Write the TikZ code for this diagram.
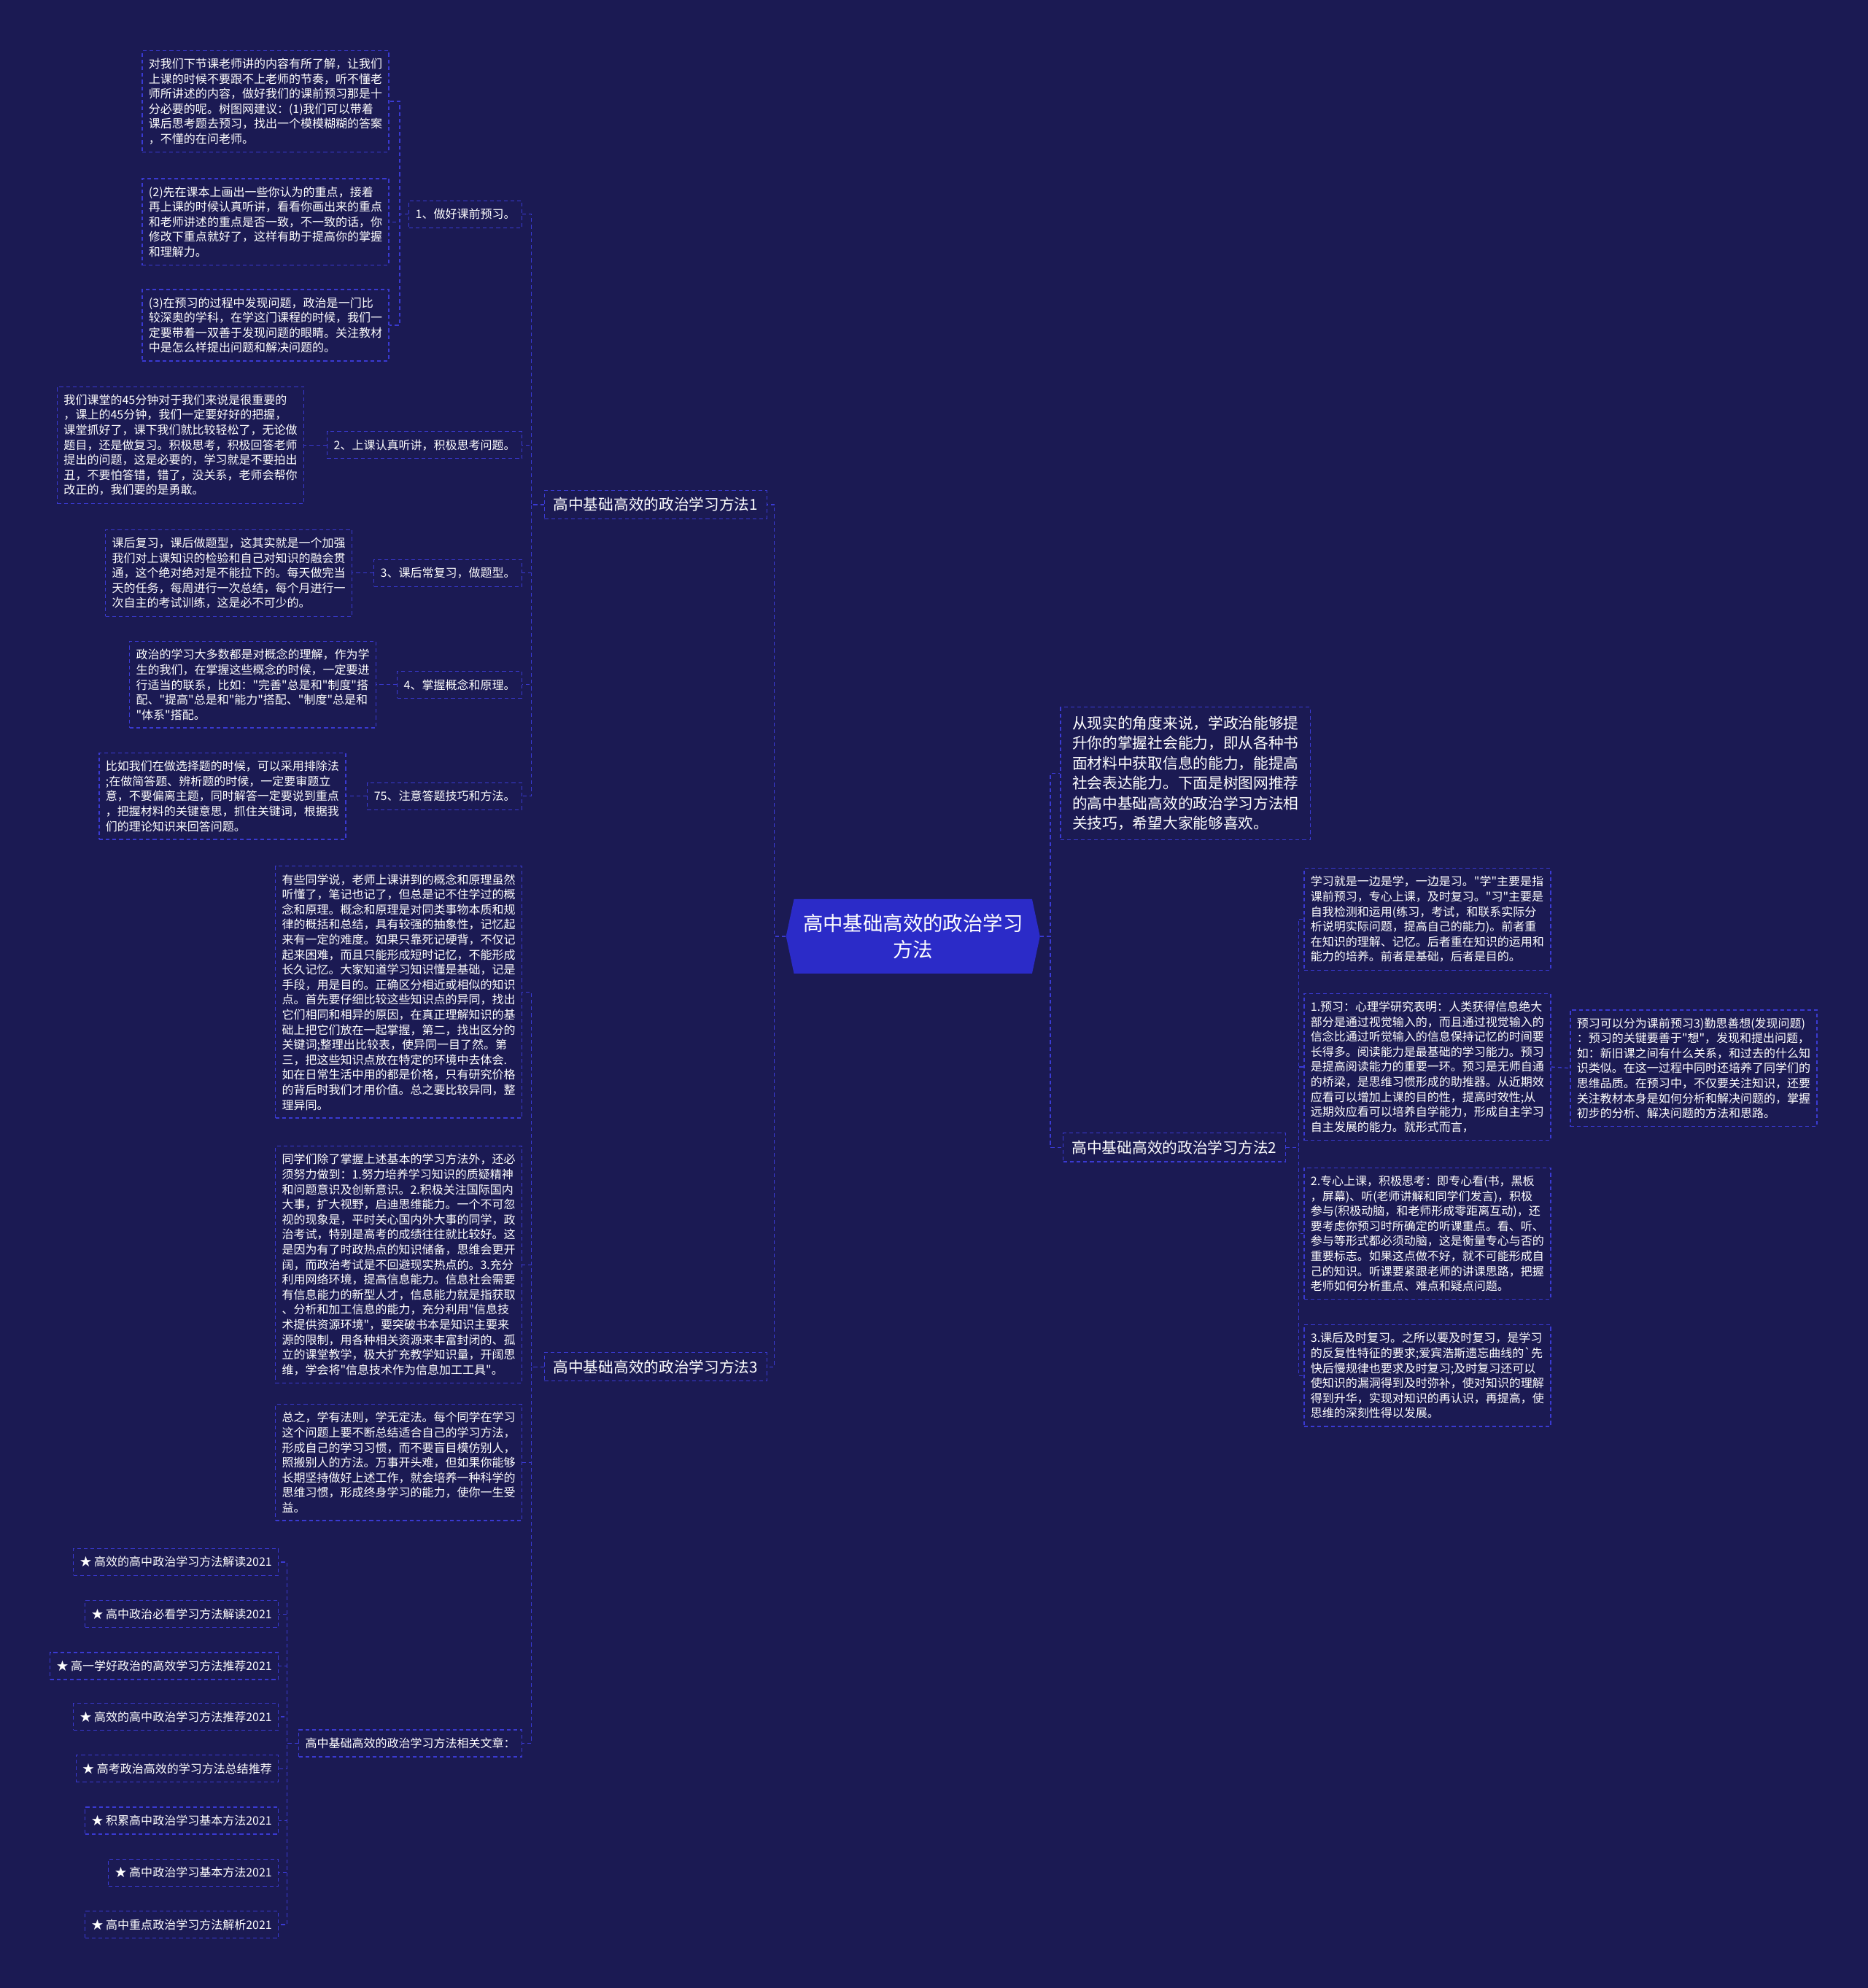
\documentclass[tikz,border=0pt]{standalone}
\usepackage{fontspec}
\newfontfamily\cjkfont{Noto Sans CJK SC}
\usetikzlibrary{shapes.symbols,positioning}
\definecolor{bgnavy}{HTML}{1B1A53}
\definecolor{linkblue}{HTML}{3A3AD2}
\definecolor{rootblue}{HTML}{2B2BC8}

\begin{document}
\begin{tikzpicture}[x=0.869pt, y=-0.869pt,
  link/.style={draw=linkblue, line width=0.65pt, dash pattern=on 2.6pt off 2pt},
  para/.style={link, text=white, align=left, text width=160pt, inner xsep=4.5pt, inner ysep=5.3pt, font=\cjkfont\fontsize{8}{10.3}\selectfont},
  tag/.style={link, text=white, inner xsep=4.5pt, inner ysep=5.5pt, font=\cjkfont\fontsize{8}{10.3}\selectfont},
  lead/.style={link, text=white, align=left, text width=155pt, inner xsep=8pt, inner ysep=6pt, font=\cjkfont\fontsize{10.35}{13.75}\selectfont},
  branch/.style={link, text=white, inner xsep=6pt, inner ysep=5pt, font=\cjkfont\fontsize{10.35}{13.75}\selectfont},
  root/.style={signal, signal to=west and east, signal pointer angle=156, fill=rootblue, text=white, align=center, minimum width=174pt, minimum height=51pt, inner sep=0pt, font=\cjkfont\fontsize{13.7}{18.3}\selectfont}]
  \fill[bgnavy] (0,0) rectangle (1473,1568);

  % centre
  \node[root] (root) at (720,738.5) {高中基础高效的政治学习\\方法};

  % left: method 1
  \node[branch, anchor=east] (b1) at (605,398) {高中基础高效的政治学习方法1};
  \node[tag, anchor=east] (l1) at (412,169) {1、做好课前预习。};
  \node[tag, anchor=east] (l2) at (412,351) {2、上课认真听讲，积极思考问题。};
  \node[tag, anchor=east] (l3) at (412,452) {3、课后常复习，做题型。};
  \node[tag, anchor=east] (l4) at (412,540) {4、掌握概念和原理。};
  \node[tag, anchor=east] (l5) at (412,628) {75、注意答题技巧和方法。};

  \node[para, anchor=east] (t1a) at (307,80) {对我们下节课老师讲的内容有所了解，让我们\\上课的时候不要跟不上老师的节奏，听不懂老\\师所讲述的内容，做好我们的课前预习那是十\\分必要的呢。树图网建议：(1)我们可以带着\\课后思考题去预习，找出一个模模糊糊的答案\\，不懂的在问老师。};
  \node[para, anchor=east] (t1b) at (307,175) {(2)先在课本上画出一些你认为的重点，接着\\再上课的时候认真听讲，看看你画出来的重点\\和老师讲述的重点是否一致，不一致的话，你\\修改下重点就好了，这样有助于提高你的掌握\\和理解力。};
  \node[para, anchor=east] (t1c) at (307,256.5) {(3)在预习的过程中发现问题，政治是一门比\\较深奥的学科，在学这门课程的时候，我们一\\定要带着一双善于发现问题的眼睛。关注教材\\中是怎么样提出问题和解决问题的。};
  \node[para, anchor=east] (t2) at (240,351) {我们课堂的45分钟对于我们来说是很重要的\\，课上的45分钟，我们一定要好好的把握，\\课堂抓好了，课下我们就比较轻松了，无论做\\题目，还是做复习。积极思考，积极回答老师\\提出的问题，这是必要的，学习就是不要拍出\\丑，不要怕答错，错了，没关系，老师会帮你\\改正的，我们要的是勇敢。};
  \node[para, anchor=east] (t3) at (278,452) {课后复习，课后做题型，这其实就是一个加强\\我们对上课知识的检验和自己对知识的融会贯\\通，这个绝对绝对是不能拉下的。每天做完当\\天的任务，每周进行一次总结，每个月进行一\\次自主的考试训练，这是必不可少的。};
  \node[para, anchor=east] (t4) at (297,540) {政治的学习大多数都是对概念的理解，作为学\\生的我们，在掌握这些概念的时候，一定要进\\行适当的联系，比如："完善"总是和"制度"搭\\配、"提高"总是和"能力"搭配、"制度"总是和\\"体系"搭配。};
  \node[para, anchor=east] (t5) at (273,628) {比如我们在做选择题的时候，可以采用排除法\\;在做简答题、辨析题的时候，一定要审题立\\意，不要偏离主题，同时解答一定要说到重点\\，把握材料的关键意思，抓住关键词，根据我\\们的理论知识来回答问题。};

  % left: method 3
  \node[branch, anchor=east] (b3) at (605,1078) {高中基础高效的政治学习方法3};
  \node[para, anchor=east] (t6) at (412,782.5) {有些同学说，老师上课讲到的概念和原理虽然\\听懂了，笔记也记了，但总是记不住学过的概\\念和原理。概念和原理是对同类事物本质和规\\律的概括和总结，具有较强的抽象性，记忆起\\来有一定的难度。如果只靠死记硬背，不仅记\\起来困难，而且只能形成短时记忆，不能形成\\长久记忆。大家知道学习知识懂是基础，记是\\手段，用是目的。正确区分相近或相似的知识\\点。首先要仔细比较这些知识点的异同，找出\\它们相同和相异的原因，在真正理解知识的基\\础上把它们放在一起掌握，第二，找出区分的\\关键词;整理出比较表，使异同一目了然。第\\三，把这些知识点放在特定的环境中去体会.\\如在日常生活中用的都是价格，只有研究价格\\的背后时我们才用价值。总之要比较异同，整\\理异同。};
  \node[para, anchor=east] (t7) at (412,997.5) {同学们除了掌握上述基本的学习方法外，还必\\须努力做到：1.努力培养学习知识的质疑精神\\和问题意识及创新意识。2.积极关注国际国内\\大事，扩大视野，启迪思维能力。一个不可忽\\视的现象是，平时关心国内外大事的同学，政\\治考试，特别是高考的成绩往往就比较好。这\\是因为有了时政热点的知识储备，思维会更开\\阔，而政治考试是不回避现实热点的。3.充分\\利用网络环境，提高信息能力。信息社会需要\\有信息能力的新型人才，信息能力就是指获取\\、分析和加工信息的能力，充分利用"信息技\\术提供资源环境"，要突破书本是知识主要来\\源的限制，用各种相关资源来丰富封闭的、孤\\立的课堂教学，极大扩充教学知识量，开阔思\\维，学会将"信息技术作为信息加工工具"。};
  \node[para, anchor=east] (t8) at (412,1153.5) {总之，学有法则，学无定法。每个同学在学习\\这个问题上要不断总结适合自己的学习方法，\\形成自己的学习习惯，而不要盲目模仿别人，\\照搬别人的方法。万事开头难，但如果你能够\\长期坚持做好上述工作，就会培养一种科学的\\思维习惯，形成终身学习的能力，使你一生受\\益。};
  \node[tag, anchor=east] (l6) at (412,1375) {高中基础高效的政治学习方法相关文章：};

  % related articles
  \foreach \i/\y/\t in {1/1232/高效的高中政治学习方法解读2021,
                        2/1273/高中政治必看学习方法解读2021,
                        3/1314/高一学好政治的高效学习方法推荐2021,
                        4/1354/高效的高中政治学习方法推荐2021,
                        5/1395/高考政治高效的学习方法总结推荐,
                        6/1436/积累高中政治学习基本方法2021,
                        7/1477/高中政治学习基本方法2021,
                        8/1518/高中重点政治学习方法解析2021}
    \node[tag, anchor=east] (s\i) at (220,\y) {★ \t};

  % right side
  \node[lead, anchor=west] (intro) at (836,610) {从现实的角度来说，学政治能够提\\升你的掌握社会能力，即从各种书\\面材料中获取信息的能力，能提高\\社会表达能力。下面是树图网推荐\\的高中基础高效的政治学习方法相\\关技巧，希望大家能够喜欢。};
  \node[branch, anchor=west] (b2) at (838,905) {高中基础高效的政治学习方法2};
  \node[para, anchor=west] (r1) at (1028,725) {学习就是一边是学，一边是习。"学"主要是指\\课前预习，专心上课，及时复习。"习"主要是\\自我检测和运用(练习，考试，和联系实际分\\析说明实际问题，提高自己的能力)。前者重\\在知识的理解、记忆。后者重在知识的运用和\\能力的培养。前者是基础，后者是目的。};
  \node[para, anchor=west] (r2) at (1028,841.5) {1.预习：心理学研究表明：人类获得信息绝大\\部分是通过视觉输入的，而且通过视觉输入的\\信念比通过听觉输入的信息保持记忆的时间要\\长得多。阅读能力是最基础的学习能力。预习\\是提高阅读能力的重要一环。预习是无师自通\\的桥梁，是思维习惯形成的助推器。从近期效\\应看可以增加上课的目的性，提高时效性;从\\远期效应看可以培养自学能力，形成自主学习\\自主发展的能力。就形式而言，};
  \node[para, anchor=west] (r3) at (1028,973) {2.专心上课，积极思考：即专心看(书，黑板\\，屏幕)、听(老师讲解和同学们发言)，积极\\参与(积极动脑，和老师形成零距离互动)，还\\要考虑你预习时所确定的听课重点。看、听、\\参与等形式都必须动脑，这是衡量专心与否的\\重要标志。如果这点做不好，就不可能形成自\\己的知识。听课要紧跟老师的讲课思路，把握\\老师如何分析重点、难点和疑点问题。};
  \node[para, anchor=west] (r4) at (1028,1085) {3.课后及时复习。之所以要及时复习，是学习\\的反复性特征的要求;爱宾浩斯遗忘曲线的`先\\快后慢规律也要求及时复习;及时复习还可以\\使知识的漏洞得到及时弥补，使对知识的理解\\得到升华，实现对知识的再认识，再提高，使\\思维的深刻性得以发展。};
  \node[para, anchor=west] (r5) at (1238,842.5) {预习可以分为课前预习3)勤思善想(发现问题)\\：预习的关键要善于"想"，发现和提出问题，\\如：新旧课之间有什么关系，和过去的什么知\\识类似。在这一过程中同时还培养了同学们的\\思维品质。在预习中，不仅要关注知识，还要\\关注教材本身是如何分析和解决问题的，掌握\\初步的分析、解决问题的方法和思路。};

  % connectors
  \draw[link] (root.west) -- ++(-9,0) |- (b1.east);
  \draw[link] (root.west) -- ++(-9,0) |- (b3.east);
  \draw[link] (root.east) -- ++(8,0) |- (intro.west);
  \draw[link] (root.east) -- ++(8,0) |- (b2.west);
  \foreach \c in {l1,l2,l3,l4,l5}
    \draw[link] (b1.west) -- ++(-10,0) |- (\c.east);
  \foreach \c in {t1a,t1b,t1c}
    \draw[link] (l1.west) -- ++(-7,0) |- (\c.east);
  \foreach \a/\b in {l2/t2,l3/t3,l4/t4,l5/t5}
    \draw[link] (\a.west) -- (\b.east);
  \foreach \c in {t6,t7,t8,l6}
    \draw[link] (b3.west) -- ++(-10,0) |- (\c.east);
  \foreach \i in {1,...,8}
    \draw[link] (l6.west) -- ++(-9,0) |- (s\i.east);
  \foreach \c in {r1,r2,r3,r4}
    \draw[link] (b2.east) -- ++(10,0) |- (\c.west);
  \draw[link] (r2.east) -- (r5.west);
\end{tikzpicture}
\end{document}
